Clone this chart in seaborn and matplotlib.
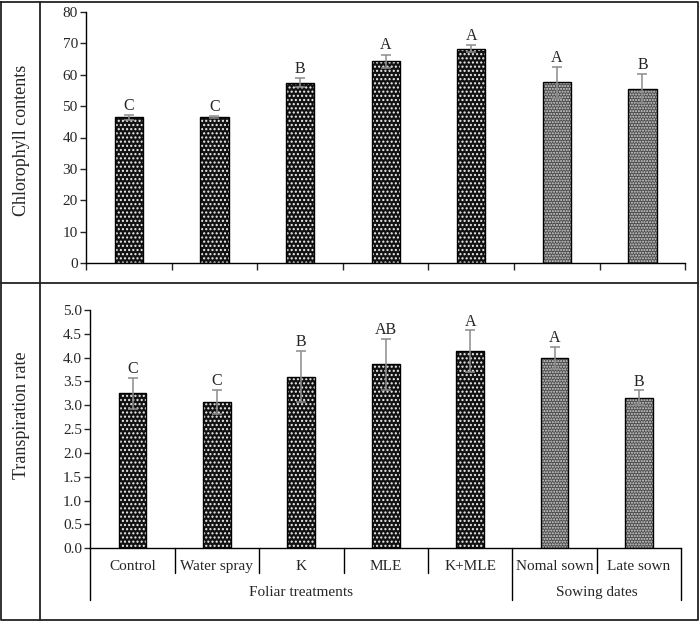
import numpy as np
import pandas as pd
import seaborn as sns
import matplotlib as mpl
from matplotlib import pyplot as plt
from matplotlib.lines import Line2D

sns.set_style('white')
plt.rcParams['font.family'] = ['Liberation Serif', 'DejaVu Serif']
plt.rcParams['font.size'] = 11
plt.rcParams['hatch.linewidth'] = 1.0

# data
treatments = ['Control', 'Water spray', 'K', 'MLE', 'K+MLE', 'Nomal sown', 'Late sown']
groups = ['Foliar treatments'] * 5 + ['Sowing dates'] * 2
chlorophyll = [46.4, 46.4, 57.5, 64.2, 68.3, 57.6, 55.6]
chlorophyll_err = [0.8, 0.3, 1.4, 2.2, 1.0, 4.9, 4.5]
chlorophyll_letters = ['C', 'C', 'B', 'A', 'A', 'A', 'B']
transpiration = [3.25, 3.07, 3.60, 3.86, 4.13, 3.99, 3.16]
transpiration_err = [0.32, 0.26, 0.53, 0.53, 0.44, 0.23, 0.15]
transpiration_letters = ['C', 'C', 'B', 'AB', 'A', 'A', 'B']

df = pd.DataFrame({'treatment': treatments, 'group': groups,
                   'chl': chlorophyll, 'chl_err': chlorophyll_err,
                   'tr': transpiration, 'tr_err': transpiration_err})

face = {'Foliar treatments': '#121212', 'Sowing dates': '#4c4c4c'}
hatches = {'Foliar treatments': '....', 'Sowing dates': '......'}
hatch_col = {'Foliar treatments': '#f0f0f0', 'Sowing dates': '#d6d6d6'}


def draw_bars(ax, col, errcol, letters, pad):
    sns.barplot(data=df, x='treatment', y=col, hue='group', palette=face,
                dodge=False, width=0.33, legend=False, ax=ax, errorbar=None,
                linewidth=0)
    for p, g in zip(ax.patches, df['group']):
        p.set_hatch(hatches[g])
        p.set_edgecolor(hatch_col[g])
    sns.barplot(data=df, x='treatment', y=col, dodge=False, width=0.33,
                fill=False, edgecolor='black', linewidth=1.0, ax=ax, errorbar=None)
    ax.errorbar(np.arange(len(df)), df[col], yerr=df[errcol], fmt='none',
                ecolor='#8c8c8c', elinewidth=1.1, capsize=3.5, capthick=1.1)
    for i, (v, e, t) in enumerate(zip(df[col], df[errcol], letters)):
        ax.text(i, v + e + pad, t, ha='center', va='bottom', fontsize=11.5)
    ax.set_xlim(-0.5, len(df) - 0.5)
    ax.set_xlabel('')
    sns.despine(ax=ax)
    for s in ['left', 'bottom']:
        ax.spines[s].set_color('black')
        ax.spines[s].set_linewidth(1.0)
    ax.tick_params(axis='y', left=True, direction='out', length=4, width=1,
                   labelsize=11, pad=2)


fig = plt.figure(figsize=(7, 6.25), dpi=100)

# chlorophyll panel
ax1 = fig.add_axes([0.123, 0.579, 0.856, 0.402])
draw_bars(ax1, 'chl', 'chl_err', chlorophyll_letters, 0.4)
ax1.set_ylim(0, 80)
ax1.set_yticks(range(0, 81, 10))
ax1.set_xticks(np.arange(len(df) + 1) - 0.5)
ax1.set_xticklabels([])
ax1.tick_params(axis='x', bottom=True, direction='out', length=5, width=1)
ax1.set_ylabel('')

# transpiration panel
ax2 = fig.add_axes([0.129, 0.123, 0.844, 0.381])
draw_bars(ax2, 'tr', 'tr_err', transpiration_letters, 0.02)
ax2.set_ylim(0, 5)
ax2.set_yticks(np.arange(0, 5.01, 0.5))
ax2.yaxis.set_major_formatter(mpl.ticker.FormatStrFormatter('%.1f'))
ax2.set_xticks([])
ax2.set_ylabel('')

# two-level category axis under the lower panel
trans = mpl.transforms.blended_transform_factory(ax2.transData, ax2.transAxes)
bounds = np.arange(len(df) + 1) - 0.5
group_edges = [-0.5, 4.5, 6.5]
for b in bounds:
    low = -0.218 if b in group_edges else -0.105
    ax2.add_line(Line2D([b, b], [0, low], transform=trans, color='black',
                        lw=1.0, clip_on=False))
for i, t in enumerate(treatments):
    ax2.text(i, -0.076, t, transform=trans, ha='center', va='center', fontsize=11)
for name, lo, hi in [('Foliar treatments', -0.5, 4.5), ('Sowing dates', 4.5, 6.5)]:
    ax2.text((lo + hi) / 2, -0.185, name, transform=trans, ha='center',
             va='center', fontsize=11)

# y labels in the left column
fig.text(0.031, 1 - 140 / 625, 'Chlorophyll contents', rotation=90,
         ha='center', va='center', fontsize=13)
fig.text(0.031, 1 - 415 / 625, 'Transpiration rate', rotation=90,
         ha='center', va='center', fontsize=13)

# frame lines
frame = dict(color='#222222', lw=1.3, transform=fig.transFigure)
fig.add_artist(Line2D([0.002, 0.997, 0.997, 0.002, 0.002],
                      [0.997, 0.997, 0.008, 0.008, 0.997], **frame))
fig.add_artist(Line2D([40 / 700, 40 / 700], [0.008, 0.997], **frame))
fig.add_artist(Line2D([0.002, 0.997], [1 - 283 / 625, 1 - 283 / 625], **frame))

fig.savefig('out.png', dpi=100, facecolor='white')
